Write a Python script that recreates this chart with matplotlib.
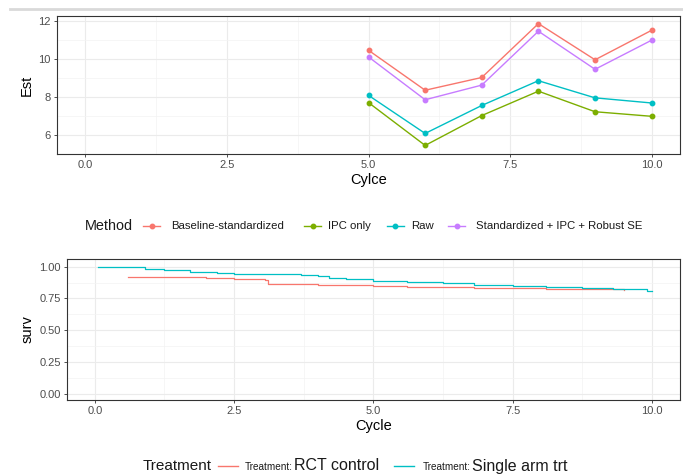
import numpy as np
import matplotlib
matplotlib.use("Agg")
import matplotlib.pyplot as plt
from matplotlib.lines import Line2D

plt.rcParams['font.family'] = ['Liberation Sans', 'DejaVu Sans']

# 上图: 各方法的估计值
cycles = [5, 6, 7, 8, 9, 10]
methods = ["Baseline-standardized", "IPC only", "Raw", "Standardized + IPC + Robust SE"]
est_baseline = [10.45, 8.35, 9.02, 11.85, 9.95, 11.5]
est_ipc = [7.7, 5.45, 7.02, 8.3, 7.22, 6.98]
est_raw = [8.08, 6.08, 7.55, 8.85, 7.95, 7.68]
est_std_ipc = [10.1, 7.85, 8.62, 11.45, 9.45, 10.98]
method_colors = ["#F8766D", "#7CAE00", "#00BFC4", "#C77CFF"]

# 下图: 生存曲线 (阶梯)
t_single = [0.05, 0.6, 0.9, 1.25, 1.7, 2.2, 2.5, 3.0, 3.7, 4.0, 4.2, 4.5, 5.0, 5.6,
            6.25, 6.8, 7.5, 8.1, 8.75, 9.3, 9.9, 10.0]
s_single = [1.0, 0.995, 0.985, 0.97, 0.96, 0.95, 0.945, 0.94, 0.935, 0.925, 0.912,
            0.9, 0.886, 0.878, 0.868, 0.855, 0.845, 0.838, 0.828, 0.82, 0.812, 0.805]
t_rct = [0.6, 1.5, 2.0, 2.5, 3.05, 3.1, 4.0, 5.0, 5.6, 6.25, 6.8, 7.5, 8.1, 8.75, 9.5]
s_rct = [0.918, 0.915, 0.91, 0.9, 0.895, 0.862, 0.858, 0.848, 0.842, 0.84, 0.835,
         0.83, 0.826, 0.82, 0.815]
treat_labels = ["RCT control", "Single arm trt"]
treat_colors = ["#F8766D", "#00BFC4"]

fig = plt.figure(figsize=(6.83, 4.75), dpi=100)

def style_axes(ax, xminor, yminor):
    ax.set_facecolor("white")
    for s in ax.spines.values():
        s.set_color("#333333")
        s.set_linewidth(0.8)
    ax.set_xticks(xminor, minor=True)
    ax.set_yticks(yminor, minor=True)
    ax.grid(which="major", color="#EBEBEB", linewidth=0.8)
    ax.grid(which="minor", color="#F3F3F3", linewidth=0.5)
    ax.set_axisbelow(True)
    ax.tick_params(which="major", length=2.5, width=0.6, color="#333333",
                   labelcolor="#4D4D4D", labelsize=8, pad=2)
    ax.tick_params(which="minor", length=0)

# 上图
ax1 = fig.add_axes([0.0835, 0.6758, 0.9121, 0.2905])
series = [est_baseline, est_ipc, est_raw, est_std_ipc]
for vals, col in zip(series, method_colors):
    ax1.plot(cycles, vals, color=col, linewidth=1.0, marker="o", markersize=3.2)
ax1.set_xlim(-0.5, 10.5)
ax1.set_ylim(5.13, 12.25)
ax1.set_xticks([0, 2.5, 5, 7.5, 10])
ax1.set_xticklabels(["0.0", "2.5", "5.0", "7.5", "10.0"])
ax1.set_yticks([6, 8, 10, 12])
style_axes(ax1, [1.25, 3.75, 6.25, 8.75], [5, 7, 9, 11])
ax1.set_xlabel("Cylce", fontsize=10.5, labelpad=2)
ax1.set_ylabel("Est", fontsize=10.5, labelpad=3)

# 下图
ax2 = fig.add_axes([0.098, 0.1579, 0.8976, 0.2968])
ax2.step(t_rct, s_rct, where="post", color=treat_colors[0], linewidth=0.9)
ax2.step(t_single, s_single, where="post", color=treat_colors[1], linewidth=0.9)
ax2.set_xlim(-0.5, 10.5)
ax2.set_ylim(-0.05, 1.06)
ax2.set_xticks([0, 2.5, 5, 7.5, 10])
ax2.set_xticklabels(["0.0", "2.5", "5.0", "7.5", "10.0"])
ax2.set_yticks([0, 0.25, 0.5, 0.75, 1.0])
ax2.set_yticklabels(["0.00", "0.25", "0.50", "0.75", "1.00"])
style_axes(ax2, [1.25, 3.75, 6.25, 8.75], [0.125, 0.375, 0.625, 0.875])
ax2.set_xlabel("Cycle", fontsize=10.5, labelpad=2)
ax2.set_ylabel("surv", fontsize=10.5, labelpad=3)

# 顶部灰线
fig.add_artist(Line2D([10 / 683, 1.0], [1 - 9 / 475] * 2, color="#D9D9D9", linewidth=2))

def px(x, y):
    return x / 683, 1 - y / 475

# 上图图例
ly = 226
fig.text(*px(85, ly), "Method", fontsize=10.4, color="#1A1A1A", ha="left", va="center")
key_x = [143, 304, 387, 448]
txt_x = [171, 328, 411, 476]
for kx, tx, col, lab in zip(key_x, txt_x, method_colors, methods):
    x0, y0 = px(kx, ly)
    x1, _ = px(kx + 17, ly)
    fig.add_artist(Line2D([x0, x1], [y0, y0], color=col, linewidth=1.0))
    fig.add_artist(Line2D([(x0 + x1) / 2], [y0], color=col, marker="o", markersize=3.2))
    fig.text(*px(tx, ly), lab, fontsize=8.2, color="#1A1A1A", ha="left", va="center")

# 下图图例
ly2 = 466
fig.text(*px(143, ly2), "Treatment", fontsize=11, color="#1A1A1A", ha="left", va="center")
for kx, tx, col, lab in zip([218, 394], [245, 423], treat_colors, treat_labels):
    x0, y0 = px(kx, ly2)
    x1, _ = px(kx + 20, ly2)
    fig.add_artist(Line2D([x0, x1], [y0, y0], color=col, linewidth=1.0))
    fig.text(*px(tx, ly2 + 1), "Treatment:", fontsize=7.2, color="#1A1A1A", ha="left", va="center")
    fig.text(*px(tx + 49, ly2), lab, fontsize=11.5, color="#1A1A1A", ha="left", va="center")

fig.savefig("out.png", dpi=100)
